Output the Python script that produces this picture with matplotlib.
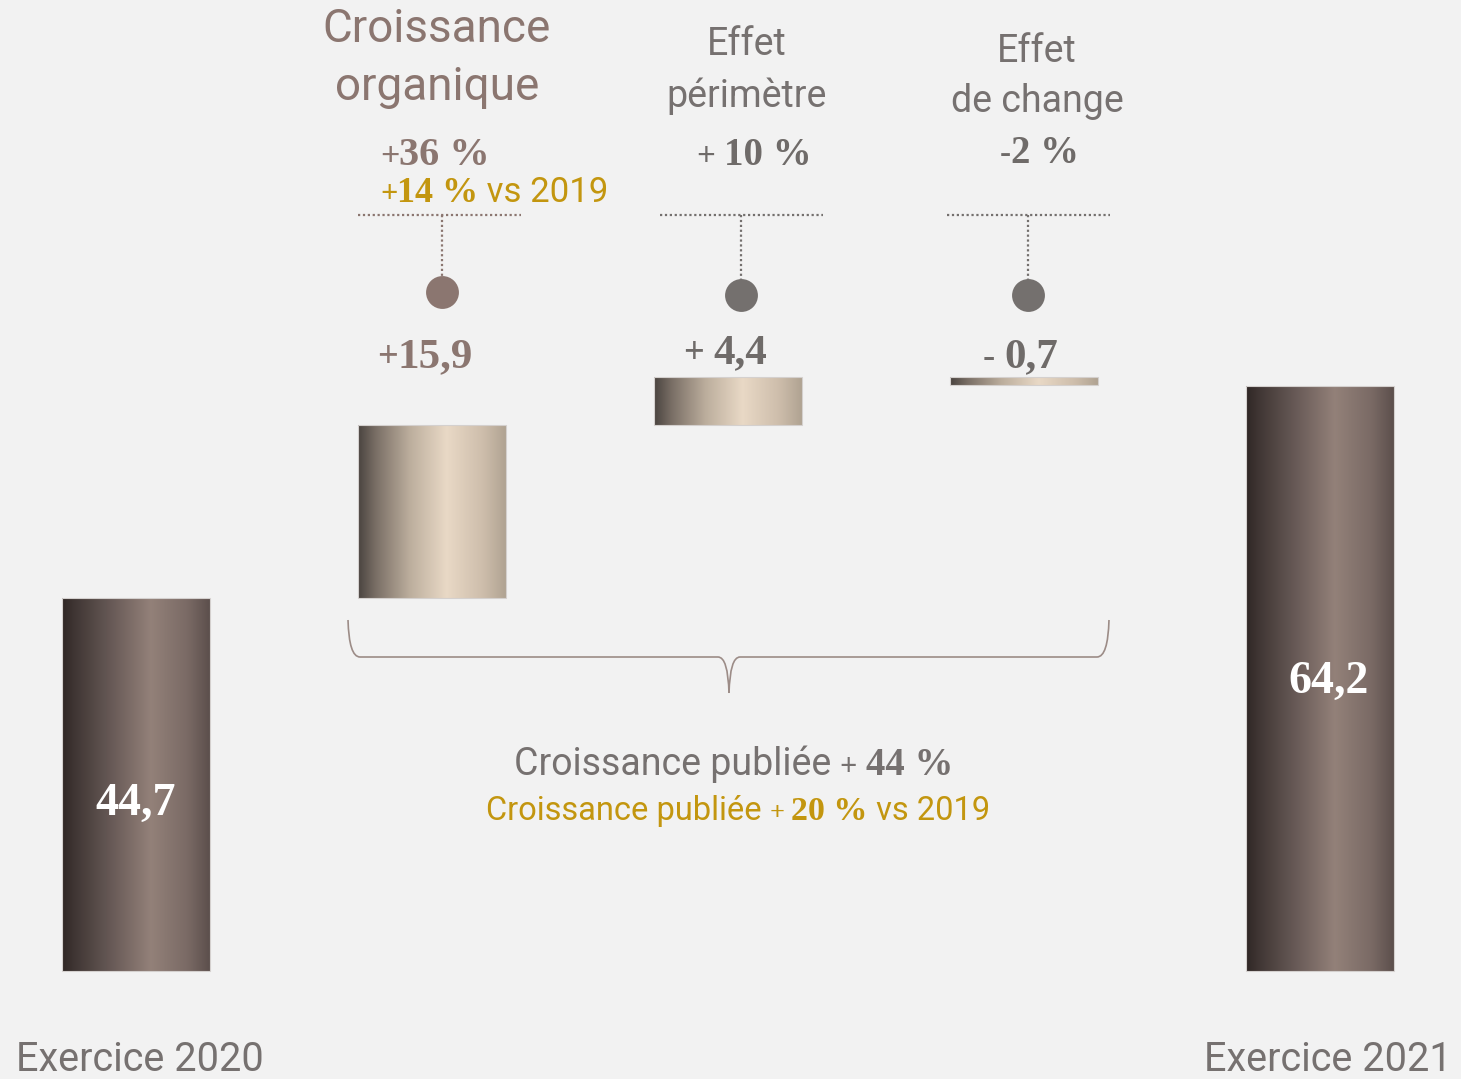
import matplotlib
matplotlib.use("Agg")
import matplotlib.pyplot as plt
import numpy as np
from matplotlib.colors import LinearSegmentedColormap
from matplotlib.path import Path
from matplotlib.patches import PathPatch

# Données (milliards d'euros)
debut = 44.7
effets = [15.9, 4.4, -0.7]
fin = 64.2
etiquettes_bas = ["Exercice 2020", "Exercice 2021"]
etiquettes_effets = [("+", "15,9"), ("+ ", "4,4"), ("- ", "0,7")]
etiquettes_totaux = ["44,7", "64,2"]
titres = ["Croissance\norganique", "Effet\npérimètre", "Effet\nde change"]
pourcentages = [("+", "36 %"), ("+ ", "10 %"), ("-", "2 %")]

W, H = 1461, 1079
BG = "#f2f2f2"
BRUN = "#8b7670"
GRIS = "#767170"
GRIS2 = "#6f6b69"
OR = "#c3960f"
SANS = ["Roboto", "DejaVu Sans"]
SERIF = ["Liberation Serif", "DejaVu Serif"]
base = 10.4  # axe coupé : les barres totales partent de cette valeur

fig = plt.figure(figsize=(W / 100, H / 100), dpi=100, facecolor=BG)
ax = fig.add_axes([0, 0, 1, 1], facecolor=BG)
ax.axis("off")

# couche de décor en pixels
dec = fig.add_axes([0, 0, 1, 1], facecolor="none")
dec.set_xlim(0, W)
dec.set_ylim(H, 0)
dec.axis("off")

cm_total = LinearSegmentedColormap.from_list(
    "total", [(0, "#2f2725"), (0.08, "#3f3533"), (0.3, "#625552"), (0.6, "#938179"),
              (0.85, "#7a6a65"), (1, "#5c4f4c")])
cm_effet = LinearSegmentedColormap.from_list(
    "effet", [(0, "#4a4440"), (0.12, "#7a6f66"), (0.35, "#bcae9d"), (0.6, "#e9d9c6"),
              (0.85, "#cdbdab"), (1, "#b0a392")])

cumul = debut + np.cumsum(effets)
bas_effets = np.concatenate([[debut], cumul[:-1]])
x = np.arange(5)
bottoms = [base] + list(bas_effets) + [base]
heights = [debut - base] + effets + [fin - base]
bars = ax.bar(x, heights, bottom=bottoms, width=0.5, color="none",
              edgecolor="#d4d0ce", linewidth=0.8, zorder=3)

grad = np.linspace(0, 1, 256).reshape(1, -1)
for i, b in enumerate(bars):
    x0, y0 = b.get_x(), b.get_y()
    x1, y1 = x0 + b.get_width(), y0 + b.get_height()
    cmap = cm_total if i in (0, 4) else cm_effet
    im = ax.imshow(grad, extent=[x0, x1, min(y0, y1), max(y0, y1)],
                   aspect="auto", cmap=cmap, zorder=2, interpolation="bicubic")
    im.set_clip_path(b)
ax.set_xlim(-136 / 296, (W - 136) / 296)
ax.set_ylim(base - 108 / 10.87, base + 971 / 10.87)

# valeurs dans les barres totales
ax.text(x[0], debut - 19.9, etiquettes_totaux[0], color="white", fontsize=33,
        fontweight="bold", family=SERIF, ha="center", va="baseline", zorder=5)
ax.text(x[4] + 0.03, fin - 28.2, etiquettes_totaux[1], color="white", fontsize=33,
        fontweight="bold", family=SERIF, ha="center", va="baseline", zorder=5)

sans_l = dict(family=SANS, fontweight="normal")
serif_b = dict(family=SERIF, fontweight="bold")

# titres des effets
dec.text(437, 42, "Croissance", color=BRUN, fontsize=33, ha="center", va="baseline", **sans_l)
dec.text(437, 100, "organique", color=BRUN, fontsize=33, ha="center", va="baseline", **sans_l)
for cx, ys, t in [(747, (55, 107), titres[1]), (1037, (62, 112), titres[2])]:
    for yy, ligne in zip(ys, t.split("\n")):
        dec.text(cx, yy, ligne, color=GRIS, fontsize=27, ha="center", va="baseline", **sans_l)


def ligne_mixte(x0, y0, morceaux):
    prev = dec.text(x0, y0, morceaux[0][0], va="baseline", ha="left", **morceaux[0][1])
    for txt, kw in morceaux[1:]:
        prev = dec.annotate(txt, xy=(1, y0), xycoords=(prev, dec.transData),
                            va="baseline", ha="left", **kw)
    return prev


def signe_nombre(x0, y0, signe, nombre, couleur, taille):
    ligne_mixte(x0, y0, [(signe, dict(color=couleur, fontsize=taille * 0.85, **serif_b)),
                         (nombre, dict(color=couleur, fontsize=taille, **serif_b))])


signe_nombre(380, 165, *pourcentages[0], BRUN, 29)
ligne_mixte(380, 202, [("+", dict(color=OR, fontsize=22, **serif_b)),
                       ("14 %", dict(color=OR, fontsize=26, **serif_b)),
                       (" vs 2019", dict(color=OR, fontsize=25, **sans_l))])
signe_nombre(697, 165, *pourcentages[1], GRIS2, 28)
signe_nombre(1000, 163, *pourcentages[2], GRIS2, 28)

# repères pointillés
for (xl, xr, xc, yd, c) in [(358, 521, 442, 292, BRUN), (660, 823, 741, 295, "#74706e"),
                            (947, 1110, 1028, 295, "#74706e")]:
    dec.plot([xl, xr], [215, 215], color=c, lw=1.6, ls=(0, (1, 1.2)))
    dec.plot([xc, xc], [215, yd - 12], color=c, lw=1.6, ls=(0, (1, 1.2)))
    dec.scatter([xc], [yd], s=560, color=c, zorder=4, linewidths=0)

# valeurs des effets
for x0, yy, (s, n), c in [(377, 367, etiquettes_effets[0], BRUN),
                          (684, 363, etiquettes_effets[1], GRIS2),
                          (983, 367, etiquettes_effets[2], GRIS2)]:
    signe_nombre(x0, yy, s, n, c, 31)

# accolade
c_acc = "#9c8c87"
p1 = Path([(348, 620), (349, 657), (360, 657), (718, 657), (728, 657), (729, 693)],
          [Path.MOVETO, Path.CURVE3, Path.CURVE3, Path.LINETO, Path.CURVE3, Path.CURVE3])
p2 = Path([(1109, 620), (1108, 657), (1097, 657), (740, 657), (730, 657), (729, 693)],
          [Path.MOVETO, Path.CURVE3, Path.CURVE3, Path.LINETO, Path.CURVE3, Path.CURVE3])
for p in (p1, p2):
    dec.add_patch(PathPatch(p, fill=False, edgecolor=c_acc, lw=1.2))

# croissance publiée
ligne_mixte(514, 775, [("Croissance publiée ", dict(color=GRIS, fontsize=27, **sans_l)),
                       ("+ ", dict(color=GRIS, fontsize=22, **serif_b)),
                       ("44 %", dict(color=GRIS, fontsize=28, **serif_b))])
ligne_mixte(486, 820, [("Croissance publiée ", dict(color=OR, fontsize=23.5, **sans_l)),
                       ("+ ", dict(color=OR, fontsize=19, **serif_b)),
                       ("20 %", dict(color=OR, fontsize=24.5, **serif_b)),
                       (" vs 2019", dict(color=OR, fontsize=23.5, **sans_l))])

# libellés des exercices
dec.text(16, 1071, etiquettes_bas[0], color=GRIS, fontsize=28.5, ha="left", va="baseline", **sans_l)
dec.text(1452, 1071, etiquettes_bas[1], color=GRIS, fontsize=28.5, ha="right", va="baseline", **sans_l)

fig.savefig("out.png", dpi=100, facecolor=BG)
